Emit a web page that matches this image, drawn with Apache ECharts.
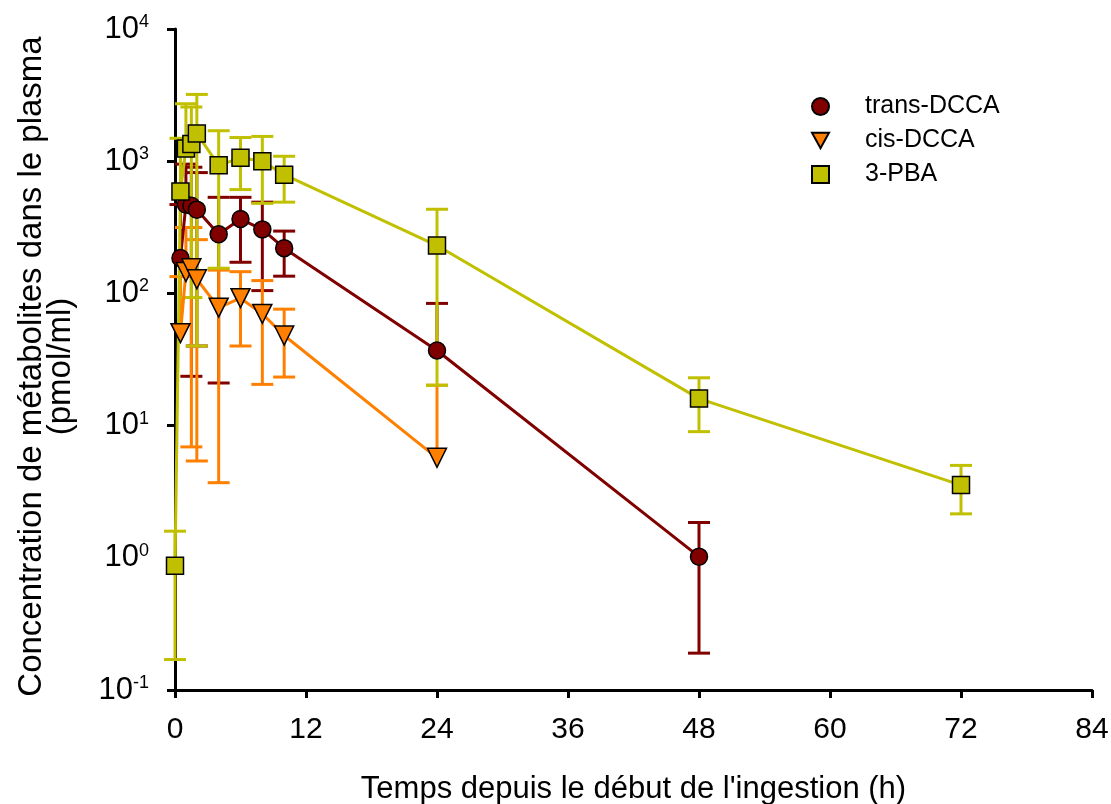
<!DOCTYPE html>
<html>
<head>
<meta charset="utf-8">
<script src="https://cdn.jsdelivr.net/npm/echarts@6/dist/echarts.min.js"></script>
<style>
html,body{margin:0;padding:0;background:#fff;}
#chart{width:1111px;height:804px;}
</style>
</head>
<body>
<div id="chart"></div>
<script>
// ---- data ----
const xTicks = [0, 12, 24, 36, 48, 60, 72, 84];
const yTickExponents = [-1, 0, 1, 2, 3, 4];

const transTimes = [0.5, 1, 1.5, 2, 4, 6, 8, 10, 24, 48];
const transMean  = [185, 470, 460, 430, 280, 365, 305, 220, 37, 1.02];
const transHigh  = [470, 950, 900, 820, 533, 533, 490, 296, 84, 1.85];
const transLow   = [null, null, 23.6, 40, 21, 172, 105, 135, null, 0.19];

const cisTimes = [0.5, 1, 1.5, 2, 4, 6, 8, 10, 24];
const cisMean  = [50, 145, 155, 128, 78, 92, 70, 48, 5.7];
const cisHigh  = [134, 315, 315, 255, 150, 146, 125, 76, 20.2];
const cisLow   = [null, null, 6.9, 5.4, 3.7, 40, 20.5, 23.3, null];

const pbaTimes = [0, 0.5, 1, 1.5, 2, 4, 6, 8, 10, 24, 48, 72];
const pbaMean  = [0.87, 590, 1250, 1350, 1620, 930, 1060, 1000, 790, 230, 16, 3.55];
const pbaHigh  = [1.59, 1490, 2720, 2570, 3200, 1700, 1510, 1540, 1090, 433, 23, 5.0];
const pbaLow   = [0.17, null, null, 93, 40, 155, 610, 480, 490, 20.2, 9, 2.15];

const names = ['trans-DCCA', 'cis-DCCA', '3-PBA'];
const colors = ['#800000', '#FF8000', '#C0C000'];

// ---- chart ----
const FONT = '"Liberation Sans", Arial, sans-serif';
const chart = echarts.init(document.getElementById('chart'), null, {renderer: 'canvas'});
const DOWN_TRI = 'path://M0,0 L10,0 L5,9 Z';

function errorSeries(times, mean, low, high, color) {
  return {
    type: 'custom',
    silent: true,
    z: 2,
    data: times.map((t, i) => [t, mean[i]]),
    renderItem: function (params, api) {
      const i = params.dataIndex;
      const t = times[i];
      const pm = api.coord([t, mean[i]]);
      const ph = api.coord([t, high[i]]);
      const lo = low[i];
      const pl = lo == null ? pm : api.coord([t, lo]);
      const hw = 11;
      const st = {stroke: color, lineWidth: 3};
      const children = [
        {type: 'line', shape: {x1: ph[0], y1: ph[1], x2: pl[0], y2: pl[1]}, style: st},
        {type: 'line', shape: {x1: ph[0] - hw, y1: ph[1], x2: ph[0] + hw, y2: ph[1]}, style: st}
      ];
      if (lo != null) {
        children.push({type: 'line', shape: {x1: pl[0] - hw, y1: pl[1], x2: pl[0] + hw, y2: pl[1]}, style: st});
      }
      return {type: 'group', children: children};
    }
  };
}

function lineSeries(name, times, mean, color, symbol, size) {
  return {
    name: name,
    type: 'line',
    z: 2,
    data: times.map((t, i) => [t, mean[i]]),
    symbol: symbol,
    symbolSize: size,
    showAllSymbol: true,
    lineStyle: {color: color, width: 3},
    itemStyle: {color: color, borderColor: '#000', borderWidth: 1.5},
    emphasis: {disabled: true}
  };
}

const option = {
  animation: false,
  textStyle: {fontFamily: FONT, color: '#000'},
  grid: {left: 175, right: 19, top: 29, bottom: 114, containLabel: false, outerBoundsMode: 'none'},
  legend: {
    orient: 'vertical',
    left: 806,
    top: 89,
    itemWidth: 17,
    itemHeight: 17,
    itemGap: 9,
    textStyle: {fontFamily: FONT, fontSize: 25, color: '#000', padding: [0, 0, 0, 31]},
    data: [
      {name: names[0], icon: 'circle'},
      {name: names[1], icon: DOWN_TRI},
      {name: names[2], icon: 'rect'}
    ]
  },
  xAxis: {
    type: 'value',
    min: 0, max: 84, interval: 12,
    name: "Temps depuis le début de l'ingestion (h)",
    nameLocation: 'middle',
    nameGap: 84,
    nameTextStyle: {fontFamily: FONT, fontSize: 31, color: '#000'},
    axisLine: {show: true, onZero: false, lineStyle: {color: '#000', width: 3}},
    axisTick: {show: true, length: 8, lineStyle: {color: '#000', width: 3}},
    axisLabel: {fontFamily: FONT, fontSize: 30, color: '#000', margin: 25,
      formatter: v => (xTicks.indexOf(v) >= 0 ? String(v) : '')},
    splitLine: {show: false}
  },
  yAxis: {
    type: 'log',
    logBase: 10,
    min: Math.pow(10, yTickExponents[0]),
    max: Math.pow(10, yTickExponents[yTickExponents.length - 1]),
    name: 'Concentration de métabolites dans le plasma\n(pmol/ml)',
    nameLocation: 'middle',
    nameGap: 100,
    nameTextStyle: {fontFamily: FONT, fontSize: 33, color: '#000', lineHeight: 29, align: 'center', padding: [0, 14, 0, 0]},
    axisLine: {show: true, onZero: false, lineStyle: {color: '#000', width: 3}},
    axisTick: {show: true, length: 8, lineStyle: {color: '#000', width: 3}},
    axisLabel: {
      fontFamily: FONT, color: '#000', margin: 26,
      formatter: function (v) {
        const e = Math.round(Math.log10(v));
        return '{b|10}{s|' + e + '}';
      },
      rich: {
        b: {fontFamily: FONT, fontSize: 31, lineHeight: 32, color: '#000', verticalAlign: 'middle'},
        s: {fontFamily: FONT, fontSize: 18, lineHeight: 18, color: '#000', verticalAlign: 'top'}
      }
    },
    splitLine: {show: false}
  },
  series: [
    errorSeries(transTimes, transMean, transLow, transHigh, colors[0]),
    lineSeries(names[0], transTimes, transMean, colors[0], 'circle', 17),
    errorSeries(cisTimes, cisMean, cisLow, cisHigh, colors[1]),
    lineSeries(names[1], cisTimes, cisMean, colors[1], DOWN_TRI, 19),
    errorSeries(pbaTimes, pbaMean, pbaLow, pbaHigh, colors[2]),
    lineSeries(names[2], pbaTimes, pbaMean, colors[2], 'rect', 17)
  ]
};
chart.setOption(option);
</script>
</body>
</html>
